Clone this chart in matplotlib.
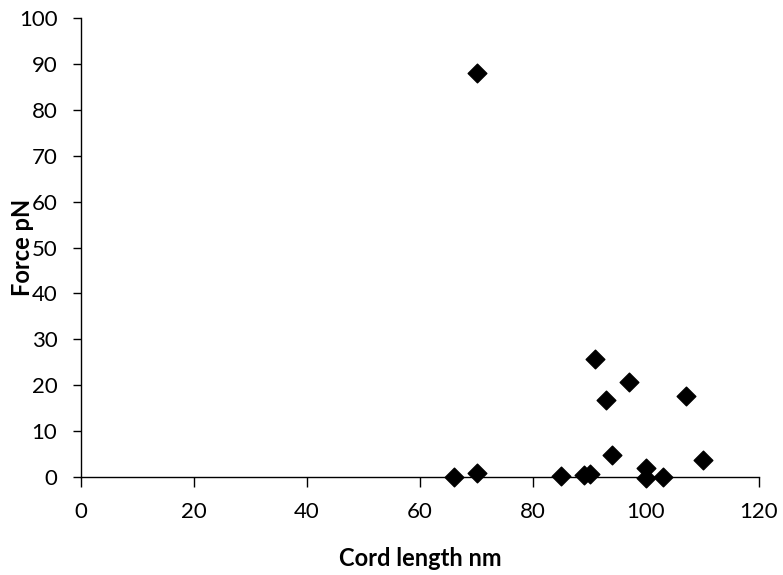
import matplotlib
matplotlib.use("Agg")
import matplotlib.pyplot as plt

cord_length = [66, 70, 70, 85, 89, 90, 91, 93, 94, 97, 100, 100, 103, 107, 110]
force = [0, 0.8, 88, 0.3, 0.4, 0.7, 25.7, 16.7, 4.8, 20.8, 1.9, -0.3, 0, 17.7, 3.7]
x_ticks = [0, 20, 40, 60, 80, 100, 120]
y_ticks = [0, 10, 20, 30, 40, 50, 60, 70, 80, 90, 100]

plt.rcParams['font.family'] = ['Lato', 'DejaVu Sans']

fig = plt.figure(figsize=(7.83, 5.75), dpi=100)
ax = fig.add_axes([81/783, 98/575, 678/783, 459/575])
ax.scatter(cord_length, force, marker='D', s=9.5**2, color='black', zorder=3, clip_on=False)
ax.set_xlim(0, 120)
ax.set_ylim(0, 100)
ax.set_xticks(x_ticks)
ax.set_yticks(y_ticks)
for s in ['top', 'right']:
    ax.spines[s].set_visible(False)
for s in ['left', 'bottom']:
    ax.spines[s].set_linewidth(1.0)
ax.tick_params(axis='x', direction='out', length=7, width=1, labelsize=16, pad=11)
ax.tick_params(axis='y', direction='out', length=6, width=1, labelsize=16, pad=11)
ax.set_xlabel('Cord length nm', fontsize=17, fontweight='bold')
ax.set_ylabel('Force pN', fontsize=17, fontweight='bold')
ax.xaxis.set_label_coords(0.5, -0.152)
ax.yaxis.set_label_coords(-0.07, 0.5)
fig.savefig('out.png', dpi=100)
